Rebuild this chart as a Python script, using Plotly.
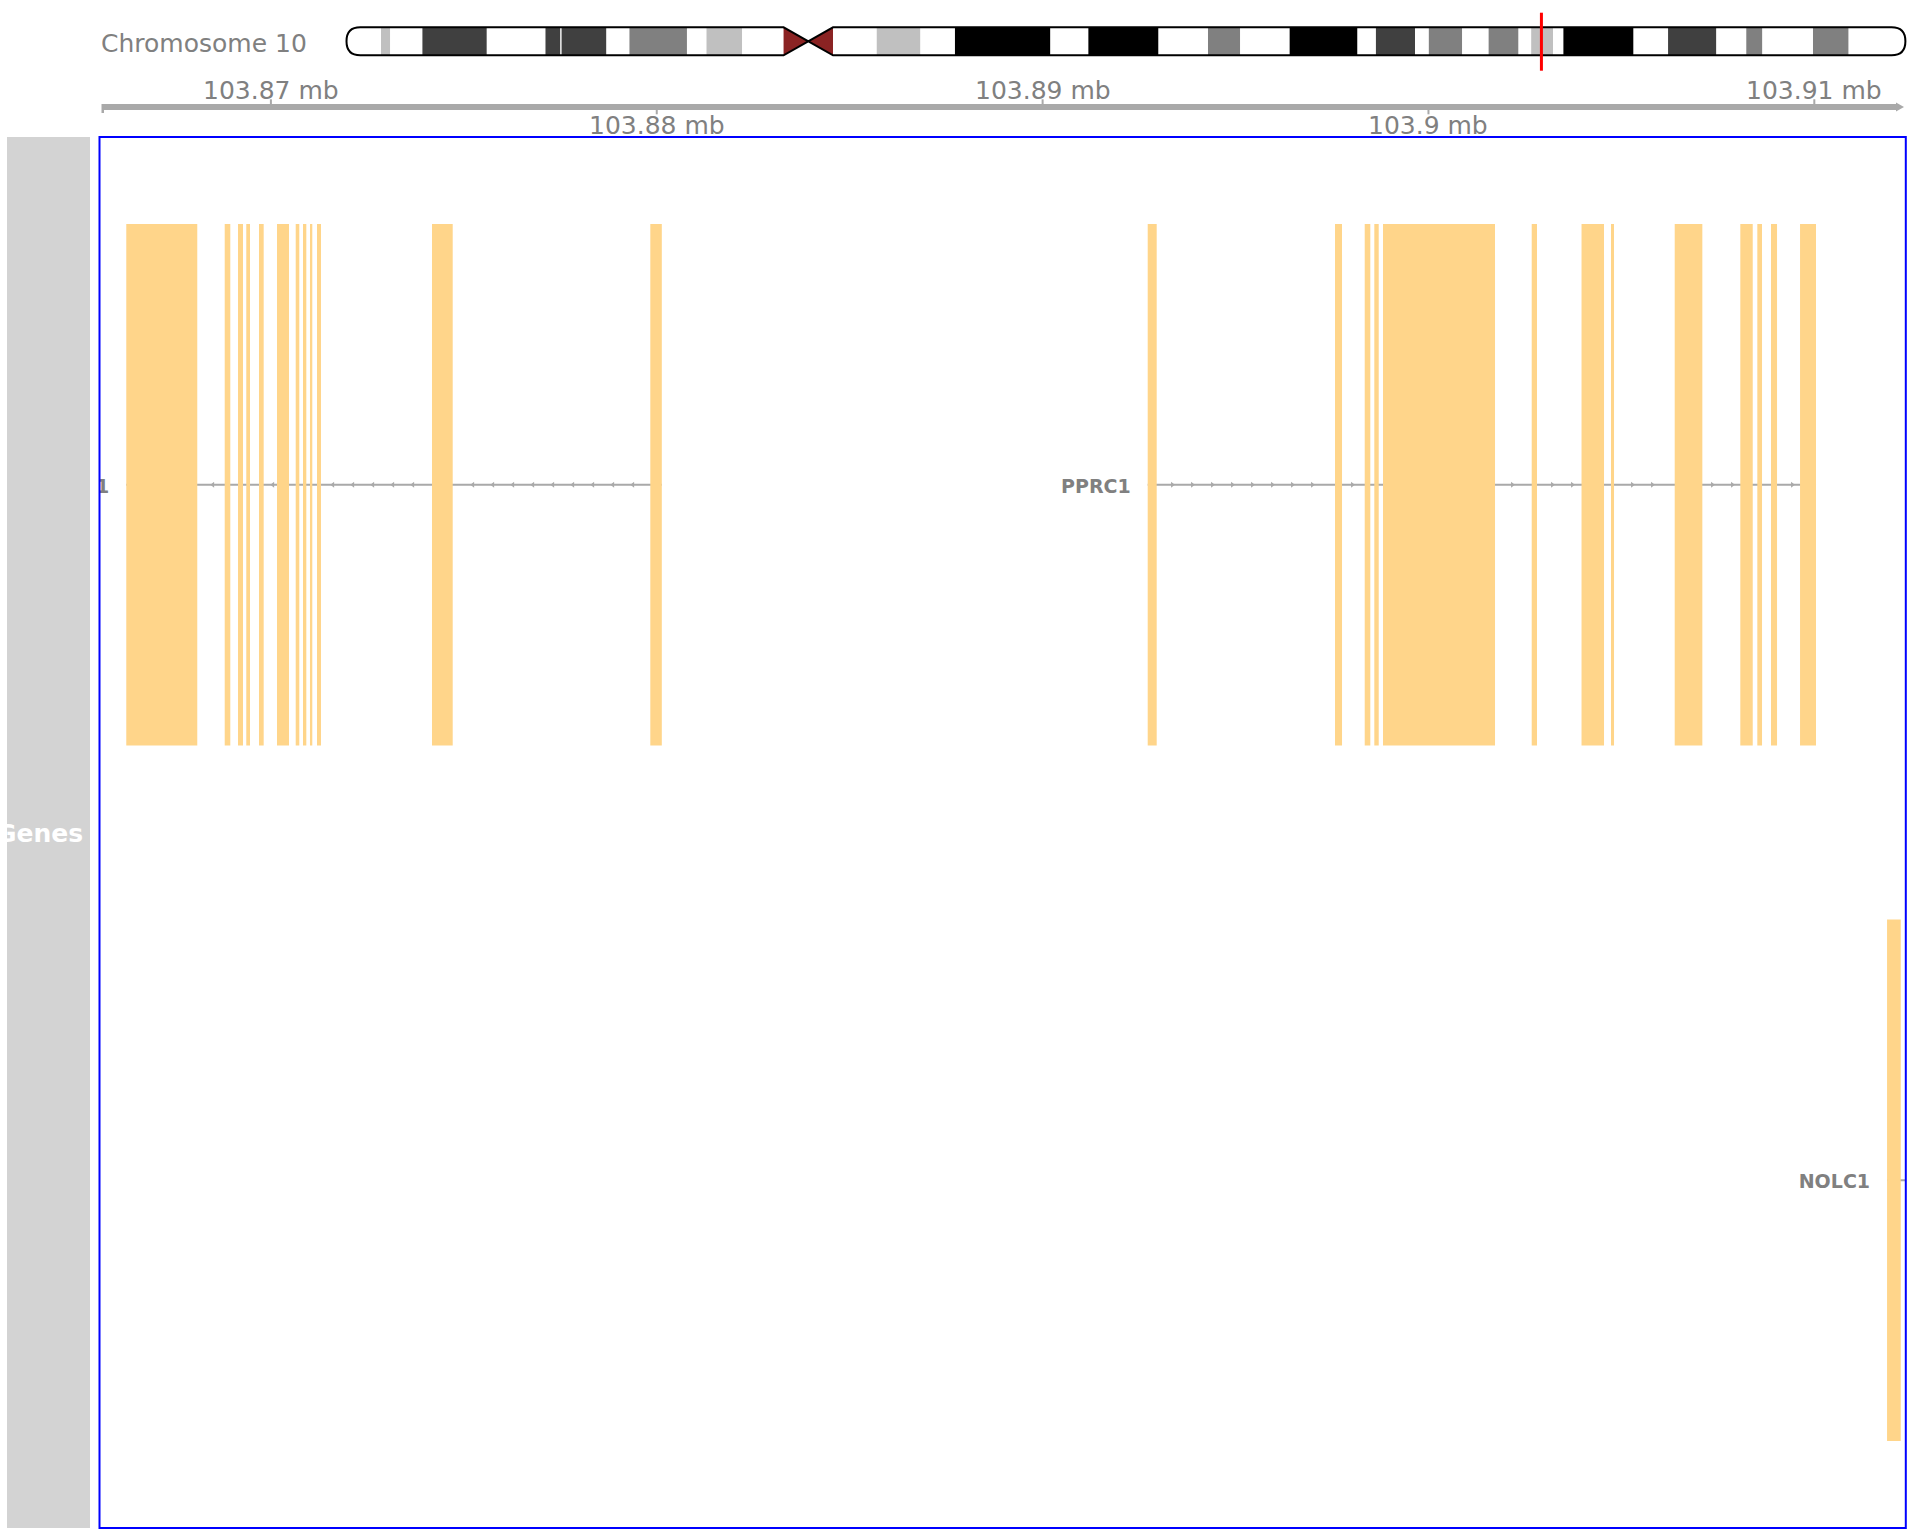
import plotly.graph_objects as go

W, H = 1920, 1536

# ---------------- data ----------------
chrom_name = "Chromosome 10"
chrom_length_mb = 135.534747
band_start_mb = [0.0, 3.0, 3.8, 6.6, 12.2, 17.3, 18.6, 18.7, 22.6, 24.6, 29.6, 31.3, 34.4,
                 38.0, 40.2, 42.3, 46.1, 49.9, 52.9, 61.2, 64.5, 70.6, 74.9, 77.7, 82.0,
                 87.9, 89.5, 92.9, 94.1, 97.0, 99.3, 101.9, 103.0, 104.9, 105.8, 111.9,
                 114.9, 119.1, 121.7, 123.1, 127.5, 130.6]
band_end_mb = band_start_mb[1:] + [chrom_length_mb]
band_stain = ["gneg", "gpos25", "gneg", "gpos75", "gneg", "gpos75", "gneg", "gpos75", "gneg",
              "gpos50", "gneg", "gpos25", "gneg", "acen", "acen", "gneg", "gpos25", "gneg",
              "gpos100", "gneg", "gpos100", "gneg", "gpos50", "gneg", "gpos100", "gneg",
              "gpos75", "gneg", "gpos50", "gneg", "gpos50", "gneg", "gpos25", "gneg",
              "gpos100", "gneg", "gpos75", "gneg", "gpos50", "gneg", "gpos50", "gneg"]

view_start_bp = 103865558
view_end_bp = 103912371

axis_tick_bp = [103870000, 103880000, 103890000, 103900000, 103910000]
axis_tick_labels = ["103.87 mb", "103.88 mb", "103.89 mb", "103.9 mb", "103.91 mb"]

track_title = "Genes"
gene_names = ["LDB1", "PPRC1", "NOLC1"]
gene_strands = ["-", "+", "+"]
gene_rows = [0.5, 0.5, 1.5]

ldb1_exon_starts = [103866252, 103868803, 103869147, 103869362, 103869692, 103870158,
                    103870643, 103870832, 103871013, 103871195, 103874175, 103879833]
ldb1_exon_ends = [103868092, 103868948, 103869277, 103869458, 103869813, 103870469,
                  103870736, 103870918, 103871073, 103871298, 103874712, 103880131]
pprc1_exon_starts = [103892724, 103897578, 103898348, 103898597, 103898822, 103902676,
                     103903967, 103904731, 103906382, 103908082, 103908523, 103908878,
                     103909630]
pprc1_exon_ends = [103892957, 103897760, 103898493, 103898711, 103901725, 103902813,
                   103904550, 103904809, 103907098, 103908404, 103908645, 103909034,
                   103910044]
nolc1_exon_starts = [103911885, 103913700]
nolc1_exon_ends = [103912240, 103914000]

gene_exon_starts = [ldb1_exon_starts, pprc1_exon_starts, nolc1_exon_starts]
gene_exon_ends = [ldb1_exon_ends, pprc1_exon_ends, nolc1_exon_ends]

# ---------------- style / layout ----------------
FONT = "DejaVu Sans"
GRAY_TXT = "#808080"
LINE_GRAY = "#A9A9A9"
EXON_FILL = "#FFD58A"
STAIN_COL = {"gneg": "#FFFFFF", "gpos25": "#C0C0C0", "gpos50": "#808080",
             "gpos75": "#404040", "gpos100": "#000000", "acen": "#8B2323"}

PANEL_L, PANEL_R, PANEL_T, PANEL_B = 99.5, 1905.8, 137.0, 1528.0
IDEO_L, IDEO_R = 346.5, 1905.4
IDEO_T, IDEO_B = 27.3, 55.3
EXON_HALF = 0.375
LABEL_DY = 0.005  # small downward nudge of gene labels (row units)


def px(x):
    return x / W


def py(y):
    return 1 - y / H


bp_per_px = (view_end_bp - view_start_bp) / (PANEL_R - PANEL_L)
ideo_pad = 0.3
mb_per_px = chrom_length_mb / (IDEO_R - IDEO_L)
ideo_pad_px = ideo_pad / mb_per_px

fig = go.Figure()
shapes = []
annotations = []

# ---------- ideogram ----------
for s, e, st in zip(band_start_mb, band_end_mb, band_stain):
    if st == "acen":
        continue
    shapes.append(dict(type="rect", xref="x2", yref="paper", x0=s, x1=e,
                       y0=py(IDEO_B), y1=py(IDEO_T), fillcolor=STAIN_COL[st],
                       line=dict(width=0), layer="above"))
acen_idx = [i for i, st in enumerate(band_stain) if st == "acen"]
c0 = band_start_mb[acen_idx[0]]
cm = band_end_mb[acen_idx[0]]
c1 = band_end_mb[acen_idx[-1]]
ymid = (IDEO_T + IDEO_B) / 2
shapes.append(dict(type="path", xref="x2", yref="paper",
                   path=f"M {c0},{py(IDEO_T)} L {cm},{py(ymid)} L {c0},{py(IDEO_B)} Z",
                   fillcolor=STAIN_COL["acen"], line=dict(width=0), layer="above"))
shapes.append(dict(type="path", xref="x2", yref="paper",
                   path=f"M {c1},{py(IDEO_T)} L {cm},{py(ymid)} L {c1},{py(IDEO_B)} Z",
                   fillcolor=STAIN_COL["acen"], line=dict(width=0), layer="above"))
r = 1.2
L = chrom_length_mb
yt, yb, ym = py(IDEO_T), py(IDEO_B), py(ymid)
outline = (f"M {c0},{yt} L {r},{yt} Q 0,{yt} 0,{ym} Q 0,{yb} {r},{yb} L {c0},{yb} "
           f"L {c1},{yt} L {L - r},{yt} Q {L},{yt} {L},{ym} Q {L},{yb} {L - r},{yb} "
           f"L {c1},{yb} Z")
shapes.append(dict(type="path", xref="x2", yref="paper", path=outline,
                   line=dict(color="black", width=2), fillcolor="rgba(0,0,0,0)",
                   layer="above"))
view_center_mb = (view_start_bp + view_end_bp) / 2 / 1e6
shapes.append(dict(type="line", xref="x2", yref="paper", x0=view_center_mb,
                   x1=view_center_mb, y0=py(70.7), y1=py(12.7),
                   line=dict(color="#FF0000", width=3), layer="above"))
fig.add_trace(go.Scatter(x=[view_center_mb], y=[0.5], xaxis="x2", yaxis="y2",
                         mode="markers", marker=dict(opacity=0), hoverinfo="skip",
                         showlegend=False))

annotations.append(dict(text=chrom_name, xref="paper", yref="paper", x=px(99),
                        y=py(43.2), xanchor="left", yanchor="middle", showarrow=False,
                        font=dict(family=FONT, size=25, color=GRAY_TXT)))

# ---------- genome axis ----------
AX_Y0, AX_Y1 = 104.0, 110.0
shapes.append(dict(type="rect", xref="paper", yref="paper", x0=px(102.5), x1=px(1897),
                   y0=py(AX_Y1), y1=py(AX_Y0), fillcolor=LINE_GRAY, line=dict(width=0)))
shapes.append(dict(type="path", xref="paper", yref="paper",
                   path=(f"M {px(1896)},{py(102.5)} L {px(1904)},{py(107)} "
                         f"L {px(1896)},{py(111.5)} Z"),
                   fillcolor=LINE_GRAY, line=dict(width=0)))
shapes.append(dict(type="rect", xref="paper", yref="paper", x0=px(101.5), x1=px(104),
                   y0=py(113), y1=py(104), fillcolor=LINE_GRAY, line=dict(width=0)))
for i, (t, lab) in enumerate(zip(axis_tick_bp, axis_tick_labels)):
    above = (i % 2 == 0)
    if above:
        ty0, ty1, ly = 99.3, AX_Y0, 90.3
    else:
        ty0, ty1, ly = AX_Y1, 114.3, 125.5
    shapes.append(dict(type="line", xref="x", yref="paper", x0=t, x1=t,
                       y0=py(ty1), y1=py(ty0), line=dict(color=LINE_GRAY, width=2)))
    annotations.append(dict(text=lab, xref="x", yref="paper", x=t, y=py(ly),
                            xanchor="center", yanchor="middle", showarrow=False,
                            font=dict(family=FONT, size=25, color=GRAY_TXT)))

# ---------- title panel ----------
shapes.append(dict(type="rect", xref="paper", yref="paper", x0=px(7), x1=px(90),
                   y0=py(PANEL_B), y1=py(PANEL_T), fillcolor="#D3D3D3",
                   line=dict(width=0), layer="below"))
annotations.append(dict(text=f"<b>{track_title}</b>", xref="paper", yref="paper",
                        x=px(39.5), y=py(833), xanchor="center", yanchor="middle",
                        showarrow=False, font=dict(family=FONT, size=25, color="white")))

# ---------- gene track ----------
ARROW_SPACING_PX = 20.0
ARROW_OFFSET_PX = 15.6
ARROW_CLEAR_PX = 3.5
LABEL_GAP_PX = 17.0

for name, strand, row, starts, ends in zip(gene_names, gene_strands, gene_rows,
                                           gene_exon_starts, gene_exon_ends):
    g0, g1 = min(starts), max(ends)
    # intron backbone
    fig.add_trace(go.Scatter(x=[g0, g1], y=[row, row], mode="lines",
                             line=dict(color=LINE_GRAY, width=2), hoverinfo="skip",
                             showlegend=False))
    # strand arrows
    first_end = sorted(ends)[0]
    last_start = sorted(starts)[-1]
    ax_list = []
    pos = first_end + ARROW_OFFSET_PX * bp_per_px
    clear = ARROW_CLEAR_PX * bp_per_px
    while pos < last_start:
        if all(not (s - clear <= pos <= e + clear) for s, e in zip(starts, ends)):
            ax_list.append(pos)
        pos += ARROW_SPACING_PX * bp_per_px
    if ax_list:
        fig.add_trace(go.Scatter(
            x=ax_list, y=[row] * len(ax_list), mode="markers",
            marker=dict(symbol="triangle-right" if strand == "+" else "triangle-left",
                        size=5, color=LINE_GRAY, line=dict(width=0)),
            hoverinfo="skip", showlegend=False))
    # exons
    xs, ys = [], []
    for s, e in zip(starts, ends):
        xs += [s, e, e, s, s, None]
        ys += [row - EXON_HALF, row - EXON_HALF, row + EXON_HALF, row + EXON_HALF,
               row - EXON_HALF, None]
    fig.add_trace(go.Scatter(x=xs, y=ys, mode="lines", fill="toself",
                             fillcolor=EXON_FILL, line=dict(width=0, color=EXON_FILL),
                             hoverinfo="skip", showlegend=False))
    # label
    fig.add_trace(go.Scatter(x=[g0 - LABEL_GAP_PX * bp_per_px], y=[row + LABEL_DY],
                             mode="text", text=[f"<b>{name}</b>"],
                             textposition="middle left",
                             textfont=dict(family=FONT, size=19, color=GRAY_TXT),
                             cliponaxis=True, hoverinfo="skip", showlegend=False))

# panel border
shapes.append(dict(type="rect", xref="x domain", yref="y domain", x0=0, x1=1, y0=0, y1=1,
                   line=dict(color="#0000FF", width=2), fillcolor="rgba(0,0,0,0)",
                   layer="above"))

fig.update_layout(
    width=W, height=H, margin=dict(l=0, r=0, t=0, b=0),
    paper_bgcolor="white", plot_bgcolor="white", showlegend=False,
    xaxis=dict(domain=[px(PANEL_L), px(PANEL_R)], range=[view_start_bp, view_end_bp],
               visible=False, fixedrange=True),
    yaxis=dict(domain=[py(PANEL_B), py(PANEL_T)], range=[2, 0], visible=False,
               fixedrange=True),
    xaxis2=dict(domain=[px(IDEO_L - ideo_pad_px), px(IDEO_R + ideo_pad_px)],
                range=[-ideo_pad, chrom_length_mb + ideo_pad], visible=False,
                anchor="y2"),
    yaxis2=dict(domain=[py(IDEO_B), py(IDEO_T)], range=[0, 1], visible=False,
                anchor="x2"),
    shapes=shapes, annotations=annotations,
    font=dict(family=FONT),
)

fig.write_html("out.html")
